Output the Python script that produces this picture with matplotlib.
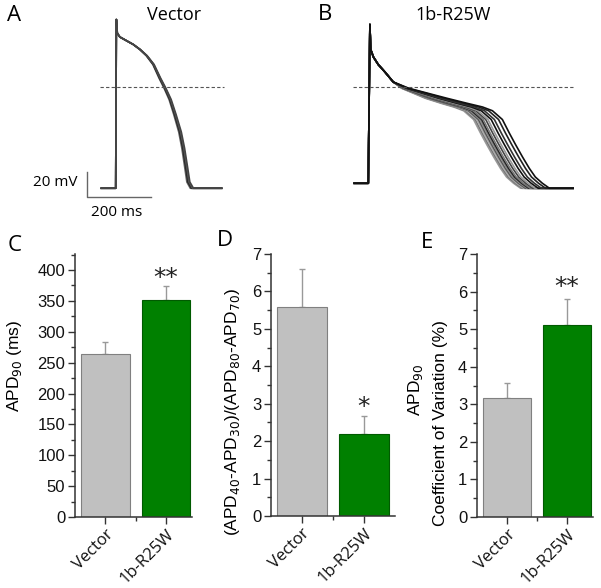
import matplotlib
matplotlib.use("Agg")
import matplotlib.pyplot as plt
from matplotlib.ticker import MultipleLocator, FixedLocator

W, H = 601, 588

# action potential, panel A (ms after upstroke, mV)
ap_a_t = [-45, 0, 2, 5, 13, 34, 55, 76, 97, 118, 138, 154, 170, 185, 201, 211, 220, 227, 238]
ap_a_v = [-81, -81, 54, 43, 40, 37, 34, 30, 25, 18, 7, -1, -10, -22, -36, -49, -64, -76, -81]
ap_a_end = 331
# per-trace repolarisation stretch
ap_a_scale = [0.975, 0.99, 1.0, 1.01, 1.025]
ap_a_colors = ['#666666', '#333333', '#222222', '#555555', '#444444']
stretch_from = 40

# action potential, panel B
ap_b_t = [-44, 0, 5, 7.5, 16, 31, 52, 78, 109, 151, 193, 245, 287, 318, 349, 371, 390,
          412, 433, 452, 474, 496]
ap_b_v = [-77, -77, 50, 30, 24, 18, 12, 4, -1, -5, -9, -13, -16, -19, -26, -37, -46,
          -56, -65, -72, -77, -81]
# how much of each trace's delay applies at each point
ap_b_w = [0, 0, 0, 0, 0, 0, 0, 0, 0.25, 0.5, 0.75, 0.9, 1, 1, 1, 1, 1,
          1, 1, 1, 1, 1]
ap_b_end = 640
# per-trace repolarisation delay (ms)
ap_b_shift = [-20, -15, -10, -5, 0, 5, 10, 18, 25, 35, 45, 58, 70]
ap_b_colors = ['#999999', '#777777', '#aaaaaa', '#555555', '#888888', '#222222', '#777777',
               '#444444', '#999999', '#111111', '#333333', '#222222', '#111111']

# bar data
groups = ['Vector', '1b-R25W']
apd90 = [264, 351]
apd90_err = [19, 23]
ratio = [5.59, 2.19]
ratio_err = [1.01, 0.48]
cv = [3.17, 5.11]
cv_err = [0.40, 0.69]

bar_colors = ['#c0c0c0', '#008000']
edge_colors = ['#808080', '#005a00']

SANS = ['Open Sans', 'DejaVu Sans']
ARIAL = ['Liberation Sans', 'DejaVu Sans']
plt.rcParams['font.family'] = ARIAL


def rect(x0, y0, x1, y1):
    return [x0 / W, 1 - y1 / H, (x1 - x0) / W, (y1 - y0) / H]


def stretched(ts, s):
    return [t if t <= stretch_from else stretch_from + (t - stretch_from) * s for t in ts]


fig = plt.figure(figsize=(W / 100, H / 100), dpi=100)

# ---- traces ----
axA = fig.add_axes(rect(60, 0, 300, 215))
axB = fig.add_axes(rect(305, 0, 601, 215))
for ax in (axA, axB):
    ax.set_ylim(-102.4, 69.6)
    ax.axis('off')
axA.set_xlim(-174.1, 575.9)
axB.set_xlim(-197.8, 727.2)

for s, c in zip(ap_a_scale, ap_a_colors):
    axA.plot(stretched(ap_a_t, s) + [ap_a_end], ap_a_v + [ap_a_v[-1]], color=c, lw=1.2,
             solid_joinstyle='round')
for d, c in zip(ap_b_shift, ap_b_colors):
    tt = [t + d * w for t, w in zip(ap_b_t, ap_b_w)]
    axB.plot(tt + [ap_b_end], ap_b_v + [ap_b_v[-1]], color=c, lw=1.2,
             solid_joinstyle='round')

axA.plot([-49, 339], [0, 0], color='#555555', lw=0.8, ls=(0, (3, 2)))
axB.plot([-48, 646], [0, 0], color='#555555', lw=0.8, ls=(0, (3, 2)))

# scale bar
axA.plot([-89.7, -89.7, 110.3], [-68, -87.6, -87.6], color='#666666', lw=1)
axA.text(-120, -76.8, '20 mV', ha='right', va='center', fontsize=11, family=SANS)
axA.text(2.5, -100, '200 ms', ha='center', va='center', fontsize=11, family=SANS,
         clip_on=False)

fig.text(14 / W, 1 - 15.5 / H, 'A', fontsize=16, family=SANS, ha='center', va='center')
fig.text(325 / W, 1 - 15 / H, 'B', fontsize=16, family=SANS, ha='center', va='center')
fig.text(174 / W, 1 - 15 / H, 'Vector', fontsize=13, family=SANS, ha='center', va='center')
fig.text(453 / W, 1 - 15 / H, '1b-R25W', fontsize=13, family=SANS, ha='center', va='center')


# ---- bars ----
def bar_panel(r, vals, errs, ymax, major, minor, xmax, stars, star_y):
    ax = fig.add_axes(r)
    x = [1, 2]
    for xi, v, e, fc, ec in zip(x, vals, errs, bar_colors, edge_colors):
        ax.bar(xi, v, width=0.8, color=fc, edgecolor=ec, linewidth=0.8, zorder=2)
        ax.errorbar(xi, v, yerr=[[0], [e]], color='#999999', lw=1, capsize=2.5,
                    capthick=1, zorder=1)
    ax.set_xlim(0.5, xmax)
    ax.set_ylim(0, ymax)
    ax.yaxis.set_major_locator(MultipleLocator(major))
    ax.yaxis.set_minor_locator(MultipleLocator(minor))
    ax.xaxis.set_major_locator(FixedLocator(x))
    ax.xaxis.set_minor_locator(FixedLocator([1.5]))
    ax.set_xticklabels(groups, rotation=45, ha='right', va='top', rotation_mode='anchor',
                       fontsize=12, family=SANS)
    for sp in ('top', 'right'):
        ax.spines[sp].set_visible(False)
    for sp in ('left', 'bottom'):
        ax.spines[sp].set_color('#333333')
        ax.spines[sp].set_linewidth(1.1)
    ax.tick_params(which='major', length=5, width=1, color='#333333', labelsize=12,
                   labelcolor='#111111', pad=2)
    ax.tick_params(which='minor', length=3, width=1, color='#333333')
    ax.text(2, star_y, stars, ha='center', va='center', fontsize=18,
            family='DejaVu Sans', color='#222222')
    return ax


bar_panel(rect(75, 254, 192, 517), apd90, apd90_err, 426, 50, 25, 2.43, '**', 387)
bar_panel(rect(271, 254, 395, 516), ratio, ratio_err, 7, 1, 0.5, 2.5, '*', 2.9)
bar_panel(rect(477, 254, 593, 517), cv, cv_err, 7, 1, 0.5, 2.43, '**', 6.12)

fig.text(14.5 / W, 1 - 245.5 / H, 'C', fontsize=16, family=SANS, ha='center', va='center')
fig.text(225 / W, 1 - 240.5 / H, 'D', fontsize=16, family=SANS, ha='center', va='center')
fig.text(427 / W, 1 - 242.5 / H, 'E', fontsize=16, family=SANS, ha='center', va='center')

fig.text(15 / W, 1 - 366 / H, r'APD$_{90}$ (ms)', rotation=90, ha='center', va='center',
         fontsize=12.5)
fig.text(233 / W, 1 - 412 / H, r'(APD$_{40}$-APD$_{30}$)/(APD$_{80}$-APD$_{70}$)',
         rotation=90, ha='center', va='center', fontsize=12.5)
fig.text(415 / W, 1 - 390 / H, r'APD$_{90}$', rotation=90, ha='center', va='center',
         fontsize=12.5)
fig.text(441 / W, 1 - 423 / H, 'Coefficient of Variation (%)', rotation=90, ha='center',
         va='center', fontsize=12.5)

fig.savefig('out.png', dpi=100)
